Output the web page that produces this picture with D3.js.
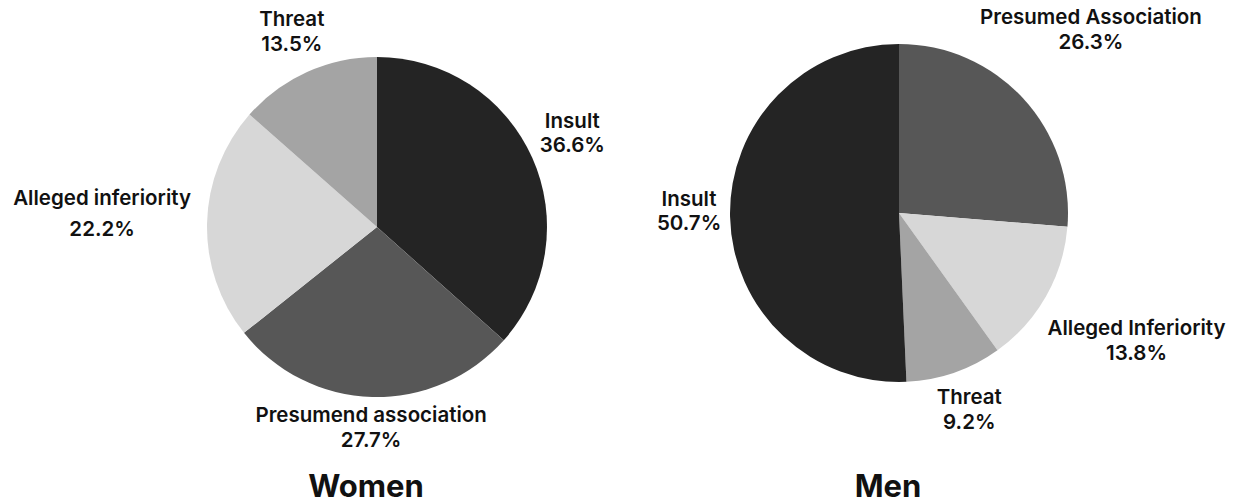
<!DOCTYPE html>
<html>
<head>
<meta charset="utf-8">
<script src="https://cdn.jsdelivr.net/npm/d3@7"></script>
<style>
  html, body { margin: 0; padding: 0; background: #fff; }
  svg text { font-family: Inter, "DejaVu Sans", sans-serif; fill: #111; }
  .slice-label { font-size: 20.5px; font-weight: 600; }
  .pie-title { font-size: 31px; font-weight: 700; }
</style>
</head>
<body>
<svg id="chart"></svg>
<script>
/* global d3 */
const WIDTH = 1236;
const HEIGHT = 504;

// women: slices clockwise from 12 o'clock
const womenLabels = ["Insult", "Presumend association", "Alleged inferiority", "Threat"];
const womenKeys = ["insult", "association", "inferiority", "threat"];
const womenValues = [36.6, 27.7, 22.2, 13.5];

// men
const menLabels = ["Presumed Association", "Alleged Inferiority", "Threat", "Insult"];
const menKeys = ["association", "inferiority", "threat", "insult"];
const menValues = [26.3, 13.8, 9.2, 50.7];

const pieTitles = ["Women", "Men"];

const colour = d3.scaleOrdinal()
  .domain(["insult", "association", "inferiority", "threat"])
  .range(["#242424", "#575757", "#d7d7d7", "#a4a4a4"]);

// layout of each pie (centre, radius, how far out each label sits)
const layout = [
  { cx: 377, cy: 227, r: 170, labelR: [214, 208, 275, 207], gap: [24, 25, 31, 25] },
  { cx: 899, cy: 213, r: 169, labelR: [261, 273, 215, 210], gap: [25, 25, 25, 24] }
];

const pies = [
  { labels: womenLabels, keys: womenKeys, values: womenValues },
  { labels: menLabels, keys: menKeys, values: menValues }
];

const fmt = v => d3.format(".1f")(v) + "%";

const $svg = d3.select('#chart')
  .attr('width', WIDTH)
  .attr('height', HEIGHT);

$svg.append('rect')
  .attr('width', WIDTH)
  .attr('height', HEIGHT)
  .attr('fill', '#fff');

const pie = d3.pie().sort(null).value(d => d.value);

pies.forEach((p, i) => {
  const L = layout[i];
  const rows = p.values.map((v, j) => ({ value: v, label: p.labels[j], key: p.keys[j], idx: j }));
  const arcs = pie(rows);

  const arc = d3.arc().innerRadius(0).outerRadius(L.r);

  const $g = $svg.append('g')
    .attr('class', 'pie')
    .attr('transform', `translate(${L.cx},${L.cy})`);

  $g.selectAll('path.slice')
    .data(arcs)
    .join('path')
    .attr('class', 'slice')
    .attr('d', arc)
    .attr('fill', d => colour(d.data.key));

  const $labels = $g.selectAll('text.slice-label')
    .data(arcs)
    .join('text')
    .attr('class', 'slice-label')
    .attr('text-anchor', 'middle')
    .attr('transform', d => {
      const R = L.labelR[d.data.idx];
      const [x, y] = d3.arc().innerRadius(R).outerRadius(R).centroid(d);
      return `translate(${x},${y})`;
    });

  $labels.append('tspan')
    .attr('x', 0)
    .attr('y', d => -L.gap[d.data.idx] / 2)
    .text(d => d.data.label);

  $labels.append('tspan')
    .attr('x', 0)
    .attr('y', d => L.gap[d.data.idx] / 2)
    .text(d => fmt(d.data.value));

  //TITLE
  $svg.append('text')
    .attr('class', 'pie-title')
    .attr('text-anchor', 'middle')
    .attr('x', L.cx - 11)
    .attr('y', 497)
    .text(pieTitles[i]);
});
</script>
</body>
</html>
